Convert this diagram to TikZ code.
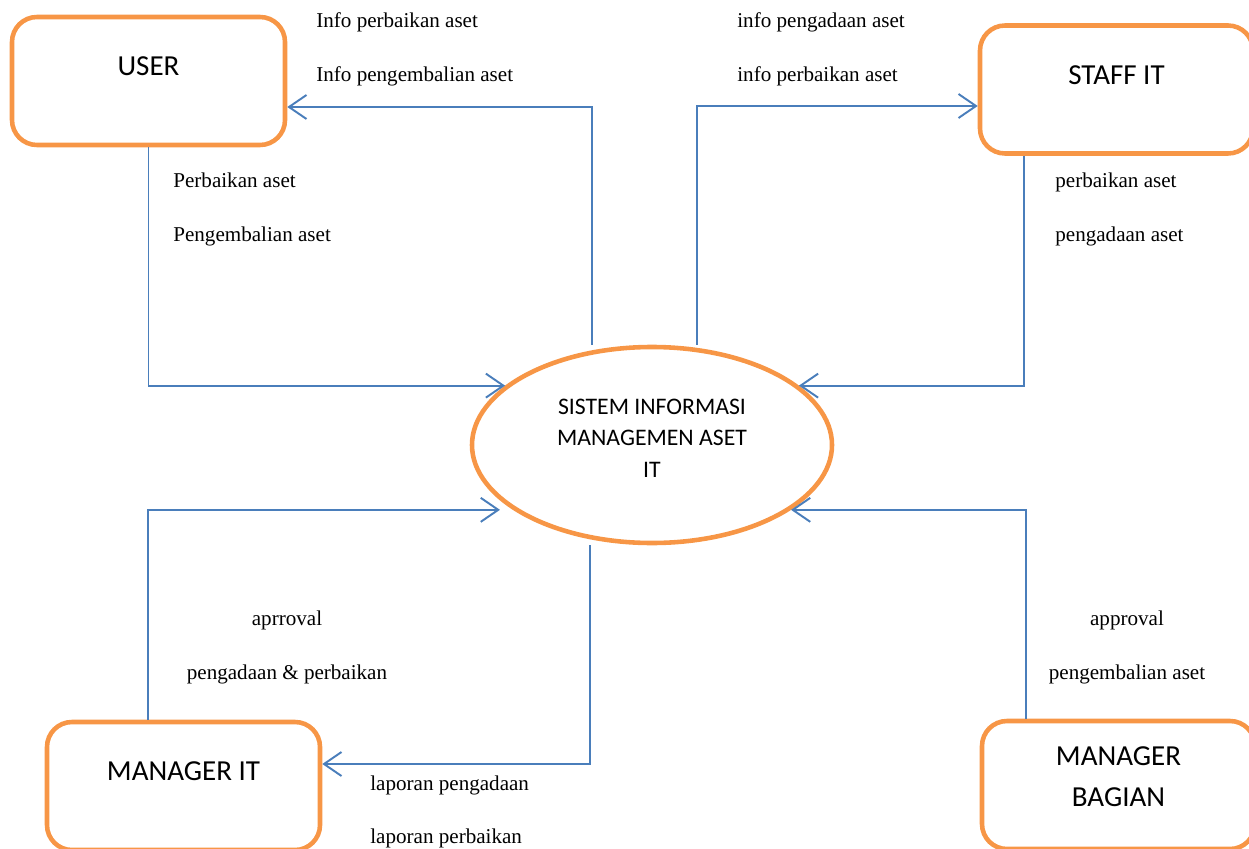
\documentclass[tikz,border=0pt]{standalone}
\usepackage{fontspec}
\setmainfont{Liberation Serif}
\newfontfamily\boxfont{Carlito}
\usepackage{tikz}
\usetikzlibrary{shapes.geometric, arrows.meta, positioning}
\definecolor{entitycolor}{RGB}{247,150,70}
\definecolor{flowcolor}{RGB}{74,126,187}

\begin{document}
\begin{tikzpicture}[
    entity/.style={draw=entitycolor, line width=2.6pt, minimum width=5.46cm, minimum height=2.56cm, rounded corners=0.5cm, font=\boxfont\fontsize{16.5}{23}\selectfont, align=center, text depth=0.58cm},
    process/.style={ellipse, draw=entitycolor, line width=2.6pt, minimum width=7.2cm, minimum height=3.92cm, font=\boxfont\fontsize{13.5}{18}\selectfont, align=center, text depth=0.28cm},
    flow/.style={-{Straight Barb[length=3.5mm, width=4.8mm]}, draw=flowcolor, line width=1.1pt},
    flowlabel/.style={inner sep=0pt, font=\fontsize{12}{30.5}\selectfont}
]
    \useasboundingbox (0,0) rectangle (24.98,16.96);

    % Entities
    \node[entity] (user) at (2.97,15.34) {USER};
    \node[entity] (staff) at (22.33,15.17) {STAFF IT};
    \node[entity] (mgrit) at (3.67,1.24) {MANAGER IT};
    \node[entity, text depth=0.34cm] (mgrbag) at (22.37,1.26) {MANAGER\\BAGIAN};
    \node[process] (sys) at (13.04,8.06) {SISTEM INFORMASI\\MANAGEMEN ASET\\IT};

    % Flows
    \draw[flow] (user.south) |- (sys.158);
    \draw[flow] ([xshift=-1.2cm]sys.north) |- ([yshift=-0.52cm]user.east);
    \draw[flow] ([xshift=0.9cm]sys.north) |- ([yshift=-0.33cm]staff.west);
    \draw[flow] ([xshift=-1.85cm]staff.south) |- (sys.22);
    \draw[flow, shorten >=0.26cm] ([xshift=-0.71cm]mgrit.north) |- (sys.205);
    \draw[flow] ([xshift=-1.24cm]sys.south) |- ([yshift=0.44cm]mgrit.east);
    \draw[flow] ([xshift=-1.85cm]mgrbag.north) |- (sys.335);

    % Flow labels
    \node[flowlabel, anchor=west, align=left] (infouser) at (6.32,15.97) {Info perbaikan aset\\Info pengembalian aset};
    \node[flowlabel, anchor=west, align=left] (infostaff) at (14.74,15.97) {info pengadaan aset\\info perbaikan aset};
    \node[flowlabel, anchor=west, align=left] (reqrepair) at (3.46,12.77) {Perbaikan aset\\Pengembalian aset};
    \node[flowlabel, anchor=west, align=left] (reqstaff) at (21.10,12.77) {perbaikan aset\\pengadaan aset};
    \node[flowlabel, align=center] (apprit) at (5.74,4.01) {aprroval\\pengadaan \& perbaikan};
    \node[flowlabel, align=center] (apprbag) at (22.54,4.01) {approval\\pengembalian aset};
    \node[flowlabel, anchor=west, align=left] (report) at (7.40,0.72) {laporan pengadaan\\laporan perbaikan};
\end{tikzpicture}
\end{document}
